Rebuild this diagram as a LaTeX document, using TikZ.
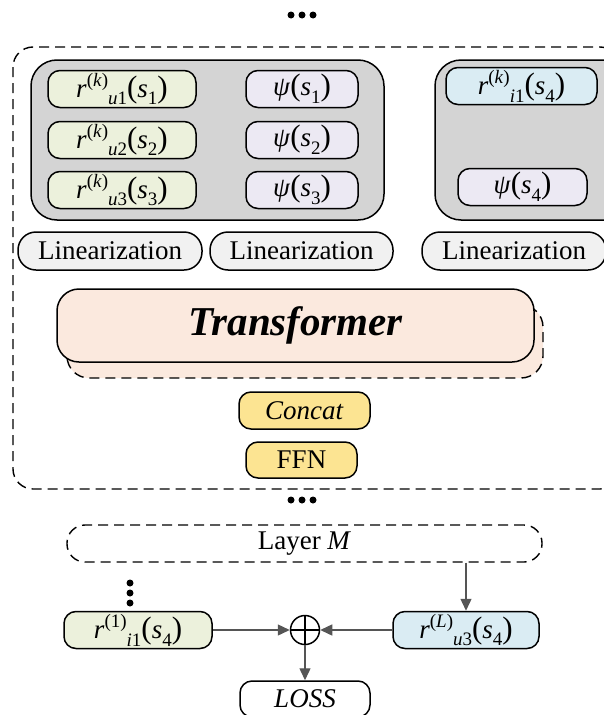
\documentclass[tikz,border=0pt]{standalone}
\usepackage{fontspec}
\setmainfont{Liberation Serif}
\usetikzlibrary{arrows.meta}

\definecolor{grayfill}{RGB}{212,212,212}
\definecolor{greenfill}{RGB}{236,241,220}
\definecolor{purplefill}{RGB}{236,233,243}
\definecolor{bluefill}{RGB}{218,236,243}
\definecolor{linfill}{RGB}{241,241,241}
\definecolor{transfill}{RGB}{251,233,222}
\definecolor{yellowfill}{RGB}{252,228,146}
\definecolor{arrowgray}{RGB}{85,85,85}

% small scripts placed by hand beside the base letters
\newcommand\sm[1]{{\fontsize{19}{19}\selectfont #1}}
\newcommand\up[1]{\raisebox{.42em}{\sm{#1}}}
\newcommand\dn[1]{\raisebox{-.28em}{\sm{#1}}}
\newcommand\bigpar[1]{{\fontsize{31}{31}\selectfont #1}}
\newcommand\rvar[3]{\textit{r}\up{(#1)}\dn{#2}\bigpar{(}\textit{s}\dn{#3}\bigpar{)}}
\newcommand\psivar[1]{\textit{ψ}\bigpar{(}\textit{s}\dn{#1}\bigpar{)}}

\begin{document}
\begin{tikzpicture}[x=1pt,y=-1pt,
  every node/.style={font=\fontsize{27}{29}\selectfont, inner sep=0pt},
  card/.style={draw=black, line width=1.5pt, rounded corners=12pt, minimum height=37pt},
  greencard/.style={card, fill=greenfill, minimum width=148pt},
  purplecard/.style={card, fill=purplefill, minimum width=112pt},
  bluecard/.style={card, fill=bluefill},
  lincard/.style={card, fill=linfill, rounded corners=18pt, minimum height=38pt},
  panel/.style={draw=black, line width=1.5pt, fill=grayfill, rounded corners=26pt},
  framebox/.style={draw=black, line width=1.4pt, dash pattern=on 10pt off 6pt, rounded corners=20pt},
  flow/.style={draw=arrowgray, line width=1.4pt, -{Triangle[length=12pt,width=11pt]}},
  dot/.style={circle, fill=black, minimum size=7pt}
]
\useasboundingbox (0,0) rectangle (603,715);

% ellipsis above the layer
\node[dot] (t1) at (291,15) {};
\node[dot] (t2) at (302,15) {};
\node[dot] (t3) at (313,15) {};

% dashed frame of one layer
\draw[framebox] (13,47) rectangle (620,489);

% grey panels
\draw[panel] (31,60) rectangle (384,220);
\draw[panel] (435,60) rectangle (630,220);

% user-side representations and sequence embeddings
\node[greencard] (ru1) at (122,89) {\rvar{\textit{k}}{\textit{u}1}{1}};
\node[greencard] (ru2) at (122,140) {\rvar{\textit{k}}{\textit{u}2}{2}};
\node[greencard] (ru3) at (122,190) {\rvar{\textit{k}}{\textit{u}3}{3}};
\node[purplecard] (p1) at (302,89) {\psivar{1}};
\node[purplecard] (p2) at (302,140) {\psivar{2}};
\node[purplecard] (p3) at (302,190) {\psivar{3}};

% item-side representation and its embedding
\node[bluecard, minimum width=151pt] (ri1) at (521.5,86) {\rvar{\textit{k}}{\textit{i}1}{4}};
\node[purplecard, minimum width=129pt] (p4) at (522.5,187) {\psivar{4}};

% linearization blocks
\node[lincard, minimum width=184pt] (lin1) at (110,251) {Linearization};
\node[lincard, minimum width=183pt] (lin2) at (301.5,251) {Linearization};
\node[lincard, minimum width=184pt] (lin3) at (514,251) {Linearization};

% stacked transformer blocks
\draw[framebox, fill=transfill, rounded corners=22pt] (67,305) rectangle (543,378);
\node[card, fill=transfill, rounded corners=22pt, minimum width=477pt, minimum height=73pt,
      font=\fontsize{41}{43}\selectfont\bfseries\itshape] (trans) at (295.5,325.5) {Transformer};

% aggregation
\node[card, fill=yellowfill, minimum width=131pt] (concat) at (304.5,410.5) {\textit{Concat}};
\node[card, fill=yellowfill, minimum width=111pt, minimum height=36pt] (ffn) at (301.5,460) {FFN};

% ellipsis between layers
\node[dot] (m1) at (291,500) {};
\node[dot] (m2) at (302,500) {};
\node[dot] (m3) at (313,500) {};

% last layer
\node[framebox, minimum width=475pt, minimum height=37pt, rounded corners=18pt] (layerM) at (304.5,543.5) {Layer \textit{M}};

% vertical ellipsis above the first-layer output
\node[dot] (v1) at (130,583) {};
\node[dot] (v2) at (130,593) {};
\node[dot] (v3) at (130,603) {};

% prediction head
\node[greencard, minimum width=148pt] (r1) at (138,630) {\rvar{1}{\textit{i}1}{4}};
\node[bluecard, minimum width=146pt] (rL) at (466,630) {\rvar{\textit{L}}{\textit{u}3}{4}};
\node[draw=black, line width=1.5pt, circle, minimum size=29pt] (plus) at (305,630) {};
\draw[line width=1.5pt] (plus.north) -- (plus.south) (plus.west) -- (plus.east);
\node[card, fill=white, minimum width=130pt, minimum height=36pt] (loss) at (305,699) {\textit{LOSS}};

\coordinate (mout) at (layerM.south -| rL.north);
\draw[flow] (mout) -- (rL.north);
\draw[flow] (r1.east) -- (plus.west);
\draw[flow] (rL.west) -- (plus.east);
\draw[flow] (plus.south) -- (loss.north);
\end{tikzpicture}
\end{document}
